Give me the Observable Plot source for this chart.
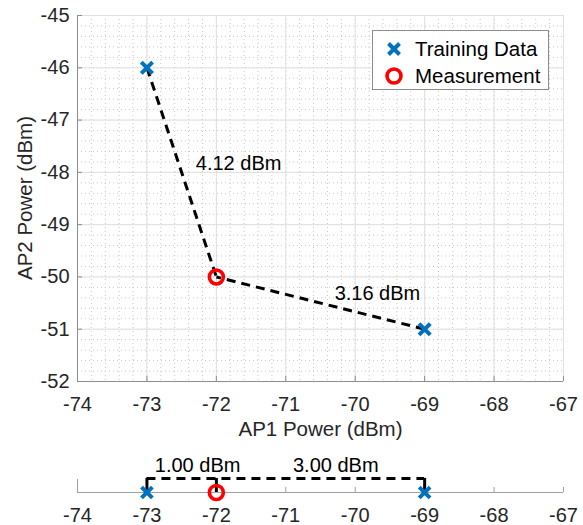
<!DOCTYPE html>
<html><head><meta charset="utf-8">
<script src="https://cdn.jsdelivr.net/npm/d3@7"></script>
<script src="https://cdn.jsdelivr.net/npm/@observablehq/plot@0.6"></script>
<style>
body{margin:0;background:#fff;}
#wrap{position:relative;width:583px;height:525px;font-family:"Liberation Sans",Arial,sans-serif;overflow:hidden;}
#wrap svg{display:block;}
.legend{position:absolute;left:372px;top:30px;width:175px;height:58px;border:1px solid #8c8c8c;background:#fff;color:#000;font-size:20.5px;}
.legend .row{position:absolute;left:0;height:24px;line-height:24px;white-space:nowrap;}
.legend svg{position:absolute;left:11px;top:2px;}
.legend span{position:absolute;left:42px;top:0;}
.ylab{position:absolute;left:25px;top:198px;transform:translate(-50%,-50%) rotate(-90deg);white-space:nowrap;font-size:20.5px;color:#262626;line-height:20px;}
</style></head><body><div id="wrap"></div>
<script>
// ---- data ----
const trainingX = [-73, -69];
const trainingY = [-46, -51];
const measX = [-72];
const measY = [-50];
const distLabels = ["4.12 dBm", "3.16 dBm"];
const distLabelX = [-71.68, -69.68];
const distLabelY = [-47.83, -50.32];
const oneDLabels = ["1.00 dBm", "3.00 dBm"];
const oneDLabelX = [-72.27, -70.28];
const xTicks = [-74, -73, -72, -71, -70, -69, -68, -67];
const yTicks = [-52, -51, -50, -49, -48, -47, -46, -45];
const legendLabels = ["Training Data", "Measurement"];
const xLabel = "AP1 Power (dBm)";
const yLabel = "AP2 Power (dBm)";

// ---- derived ----
const xDom = [xTicks[0], xTicks[xTicks.length - 1]];
const yDom = [yTicks[0], yTicks[yTicks.length - 1]];
const minorX = d3.range(0, (xDom[1] - xDom[0]) * 5 + 1).map(i => xDom[0] + i * 0.2);
const minorY = d3.range(0, (yDom[1] - yDom[0]) * 5 + 1).map(i => yDom[0] + i * 0.2);
const train = trainingX.map((x, i) => ({px: x, py: trainingY[i]}));
const meas = measX.map((x, i) => ({px: x, py: measY[i]}));
const links = train.map(t => ({ax: t.px, ay: t.py, bx: meas[0].px, by: meas[0].py}));
const labels = distLabels.map((t, i) => ({t, px: distLabelX[i], py: distLabelY[i]}));
const labels1d = oneDLabels.map((t, i) => ({t, px: oneDLabelX[i]}));
const allX = trainingX.concat(measX);

const BLUE = "#0072BD", RED = "#FF0000";
const AXIS = "#8c8c8c";
const FONT = "'Liberation Sans', Arial, sans-serif";
const fmt = d => String(d);
const TICKFS = 20;

const main = Plot.plot({
  width: 583, height: 445,
  marginLeft: 77, marginRight: 20, marginTop: 15, marginBottom: 64,
  x: {domain: xDom, axis: null, label: null},
  y: {domain: yDom, axis: null, label: null},
  style: {fontFamily: FONT, fontSize: "20px", color: "#262626", background: "transparent", overflow: "visible"},
  marks: [
    Plot.gridX(minorX, {stroke: "#c8c8c8", strokeOpacity: 1, strokeDasharray: "1,3"}),
    Plot.gridY(minorY, {stroke: "#c8c8c8", strokeOpacity: 1, strokeDasharray: "1,3"}),
    Plot.gridX(xTicks, {stroke: "#e0e0e0", strokeOpacity: 1}),
    Plot.gridY(yTicks, {stroke: "#e0e0e0", strokeOpacity: 1}),
    Plot.ruleX([xDom[0]], {stroke: AXIS}),
    Plot.ruleY([yDom[0]], {stroke: AXIS}),
    Plot.ruleX(xTicks, {y1: yDom[0], y2: yDom[0], insetTop: -5, stroke: AXIS}),
    Plot.ruleY(yTicks, {x1: xDom[0], x2: xDom[0], insetRight: -5, stroke: AXIS}),
    Plot.axisX(xTicks, {tickSize: 0, tickPadding: 15, tickFormat: fmt, fontSize: TICKFS, label: null}),
    Plot.axisY(yTicks, {tickSize: 0, tickPadding: 8, tickFormat: fmt, fontSize: TICKFS, label: null}),
    Plot.text([xLabel], {text: d => d, frameAnchor: "bottom", dy: 54, fontSize: 20.5, fill: "#262626"}),
    Plot.link(links, {x1: "ax", y1: "ay", x2: "bx", y2: "by", stroke: "black", strokeWidth: 3, strokeDasharray: "9,6"}),
    Plot.text(labels, {x: "px", y: "py", text: "t", fontSize: 20, fill: "black"}),
    Plot.dot(train, {x: "px", y: "py", symbol: "times", r: 5.2, stroke: BLUE, strokeWidth: 4}),
    Plot.dot(meas, {x: "px", y: "py", r: 7, stroke: RED, strokeWidth: 3.6, fill: "none"})
  ]
});

const bracketLevel = 0.52;
const oneD = Plot.plot({
  width: 583, height: 80,
  marginLeft: 77, marginRight: 20, marginTop: 20, marginBottom: 33,
  x: {domain: xDom, axis: null, label: null},
  y: {domain: [0, 1], axis: null, label: null},
  style: {fontFamily: FONT, fontSize: "20px", color: "#262626", background: "transparent", overflow: "visible"},
  marks: [
    Plot.ruleY([0], {stroke: "#a0a0a0", strokeWidth: 1.2}),
    Plot.ruleX(xTicks.slice(1), {y1: 0, y2: 0, insetTop: -5, stroke: "#a0a0a0"}),
    Plot.ruleX([xDom[0]], {y1: 0, y2: 0, insetTop: -13, stroke: "#a0a0a0"}),
    Plot.axisX(xTicks, {tickSize: 0, tickPadding: 15, tickFormat: fmt, fontSize: TICKFS, label: null}),
    Plot.ruleY([bracketLevel], {x1: d3.min(allX), x2: d3.max(allX), stroke: "black", strokeWidth: 3, strokeDasharray: "9,6"}),
    Plot.ruleX(allX, {y1: 0, y2: bracketLevel, stroke: "black", strokeWidth: 3}),
    Plot.text(labels1d, {x: "px", y: 1, text: "t", fontSize: 20, fill: "black"}),
    Plot.dot(trainingX, {x: d => d, y: 0, symbol: "times", r: 5, stroke: BLUE, strokeWidth: 4}),
    Plot.dot(measX, {x: d => d, y: 0, r: 7, stroke: RED, strokeWidth: 3.6, fill: "none"})
  ]
});

const wrap = document.getElementById("wrap");
wrap.appendChild(main);
wrap.appendChild(oneD);

// y-axis title
const yl = document.createElement("div");
yl.className = "ylab";
yl.textContent = yLabel;
wrap.appendChild(yl);

// legend
const leg = document.createElement("div");
leg.className = "legend";
const symbols = [
  `<svg width="20" height="20"><path d="M4.5,4.5L15.5,15.5M15.5,4.5L4.5,15.5" stroke="${BLUE}" stroke-width="4" fill="none"/></svg>`,
  `<svg width="20" height="20"><circle cx="10" cy="10" r="7" stroke="${RED}" stroke-width="3.6" fill="none"/></svg>`
];
legendLabels.forEach((lab, i) => {
  const row = document.createElement("div");
  row.className = "row";
  row.style.top = (6 + i * 27) + "px";
  row.style.width = "100%";
  row.innerHTML = symbols[i] + `<span>${lab}</span>`;
  leg.appendChild(row);
});
wrap.appendChild(leg);
</script>
</body></html>
